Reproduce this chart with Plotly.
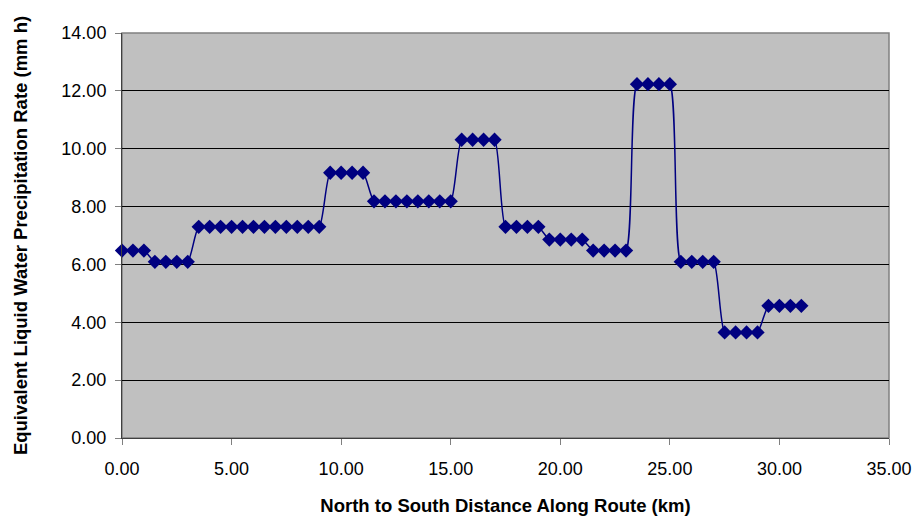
import plotly.graph_objects as go

# distance along route (km) and precipitation rate
distance_km = [0.0, 0.5, 1.0, 1.5, 2.0, 2.5, 3.0, 3.5, 4.0, 4.5, 5.0, 5.5, 6.0,
               6.5, 7.0, 7.5, 8.0, 8.5, 9.0, 9.5, 10.0, 10.5, 11.0, 11.5, 12.0,
               12.5, 13.0, 13.5, 14.0, 14.5, 15.0, 15.5, 16.0, 16.5, 17.0, 17.5,
               18.0, 18.5, 19.0, 19.5, 20.0, 20.5, 21.0, 21.5, 22.0, 22.5, 23.0,
               23.5, 24.0, 24.5, 25.0, 25.5, 26.0, 26.5, 27.0, 27.5, 28.0, 28.5,
               29.0, 29.5, 30.0, 30.5, 31.0]
rate_mm_h = [6.48, 6.48, 6.48, 6.09, 6.09, 6.09, 6.09,
             7.30, 7.30, 7.30, 7.30, 7.30, 7.30, 7.30, 7.30, 7.30, 7.30, 7.30, 7.30,
             9.17, 9.17, 9.17, 9.17,
             8.18, 8.18, 8.18, 8.18, 8.18, 8.18, 8.18, 8.18,
             10.31, 10.31, 10.31, 10.31,
             7.30, 7.30, 7.30, 7.30,
             6.86, 6.86, 6.86, 6.86,
             6.48, 6.48, 6.48, 6.48,
             12.23, 12.23, 12.23, 12.23,
             6.09, 6.09, 6.09, 6.09,
             3.65, 3.65, 3.65, 3.65,
             4.57, 4.57, 4.57, 4.57]

fig = go.Figure()
fig.add_trace(go.Scatter(
    x=distance_km, y=rate_mm_h, mode="lines+markers",
    line=dict(color="#000080", width=1.5, shape="spline", smoothing=0.6),
    marker=dict(symbol="diamond", size=11, color="#000080"),
    cliponaxis=False, showlegend=False,
))

# grey plot-area border (top / right)
fig.add_shape(type="rect", xref="paper", yref="paper", x0=0, y0=0, x1=1, y1=1,
              line=dict(color="#808080", width=1.5), layer="below")

fig.update_layout(
    width=918, height=521,
    margin=dict(l=122, r=29, t=33, b=83, autoexpand=False),
    paper_bgcolor="white", plot_bgcolor="#C0C0C0",
    font=dict(family="Liberation Sans, Arial, sans-serif", size=18, color="black"),
)
fig.update_xaxes(
    range=[0, 35], dtick=5, tickformat=".2f", showgrid=False, zeroline=False,
    showline=True, linecolor="#404040", linewidth=1,
    ticks="outside", ticklen=6, tickcolor="#808080",
    tickfont=dict(size=18), ticklabelstandoff=8, ticklabeloverflow="allow",
    automargin=False,
    title=dict(text="<b>North to South Distance Along Route (km)</b>",
               font=dict(size=18.5), standoff=21),
)
fig.update_yaxes(
    range=[0, 14], dtick=2, tickformat=".2f", showgrid=True, gridcolor="black",
    gridwidth=1, zeroline=False,
    showline=True, linecolor="#404040", linewidth=1,
    ticks="outside", ticklen=6, tickcolor="#808080",
    tickfont=dict(size=18), ticklabelstandoff=5,
    automargin=False,
    title=dict(text="<b>Equivalent Liquid Water Precipitation Rate (mm h)</b>",
               font=dict(size=18.5), standoff=28),
)

# drop the default page margin so the figure fills the window exactly
fig.write_html("out.html",
               config={"displayModeBar": False},
               post_script="document.body.style.margin='0';"
                           "document.body.style.overflow='hidden';")
